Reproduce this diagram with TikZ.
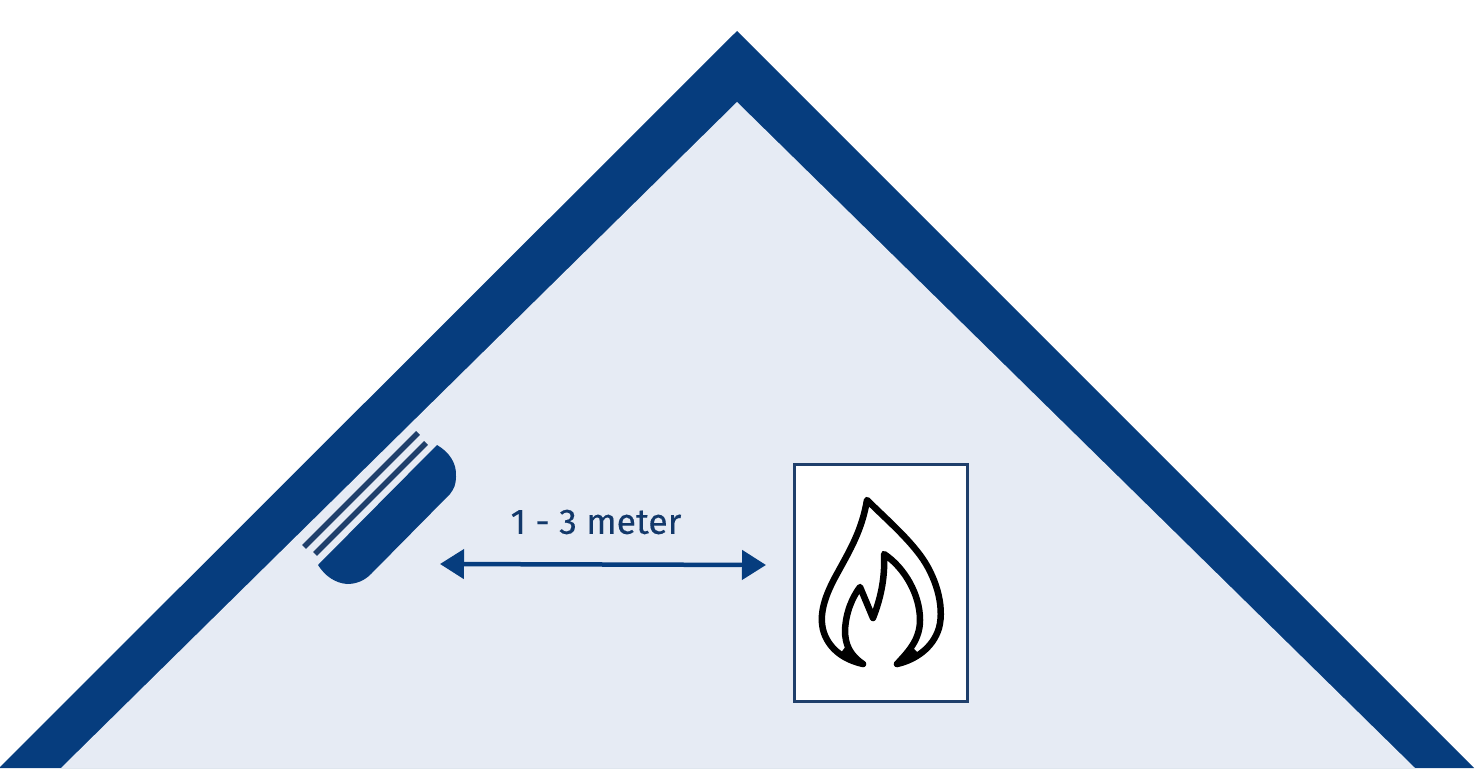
\documentclass[tikz,border=0pt]{standalone}
\usepackage{fontspec}
\setmainfont{Fira Sans}[FakeBold=0.35]
\usetikzlibrary{arrows.meta}
\definecolor{roofblue}{HTML}{063D7E}
\definecolor{roomfill}{HTML}{E6EBF4}
\definecolor{boxline}{HTML}{1F3F6B}
\definecolor{labelblue}{HTML}{12386A}
\tikzset{
  rangelabel/.style={text=labelblue,font=\fontsize{35.5}{40}\selectfont,inner sep=0pt},
  firebox/.style={draw=boxline,line width=3.5pt,fill=white,minimum width=173pt,minimum height=237pt,inner sep=0pt},
  flameline/.style={draw=black,line width=6.5pt,line join=round,line cap=round},
  rangearrow/.style={draw=roofblue,line width=4.5pt,{Triangle[length=24pt,width=29pt]}-{Triangle[length=24pt,width=29pt]}},
  sensorline/.style={draw=boxline,line width=5.5pt}
}
\begin{document}
\begin{tikzpicture}[x=1pt,y=-1pt]
\useasboundingbox (0,0) rectangle (1476,770);
\fill[white] (0,0) rectangle (1476,770);
%roof and room
\fill[roofblue] (737,31) -- (1474,768) -- (-1,768) -- cycle;
\fill[roomfill] (737,102) -- (1415,768) -- (61,768) -- cycle;
%detector
\fill[roofblue] (437,445) .. controls (449,452) and (457,463) .. (456,477) .. controls (456,484) and (454,489) .. (450,494) -- (371,574) .. controls (364,581) and (356,584) .. (347,584) .. controls (335,583) and (325,576) .. (318,565) -- cycle;
\draw[sensorline] (418,433) -- (304,547);
\draw[sensorline] (426,443) -- (315,554);
%fire symbol
\node[firebox] (fire) at (881,583) {};
\draw[flameline] (863,664) .. controls (845,660) and (830,650) .. (824,633) .. controls (818,615) and (825,595) .. (838,572) .. controls (850,550) and (862,530) .. (867,500)
  .. controls (885,518) and (905,535) .. (920,555) .. controls (935,575) and (945,605) .. (939,628) .. controls (933,648) and (915,660) .. (897,664);
\draw[flameline] (863,664) .. controls (850,655) and (845,645) .. (845,630) .. controls (846,612) and (852,598) .. (860,587)
  -- (873,618) .. controls (882,595) and (885,575) .. (884,554)
  .. controls (905,568) and (920,595) .. (920,620) .. controls (920,640) and (908,652) .. (897,664);
%thick ends of the flame
\fill[black] (864,665) -- (846,646) -- (840,654) -- cycle;
\fill[black] (896,665) -- (913,648) -- (920,655) -- cycle;
%distance
\coordinate (rangeL) at (440,564);
\coordinate (rangeR) at (766,565);
\draw[rangearrow] (rangeL) -- (rangeR);
\node[rangelabel] (range) at (596,522) {1 - 3 meter};
\end{tikzpicture}
\end{document}
